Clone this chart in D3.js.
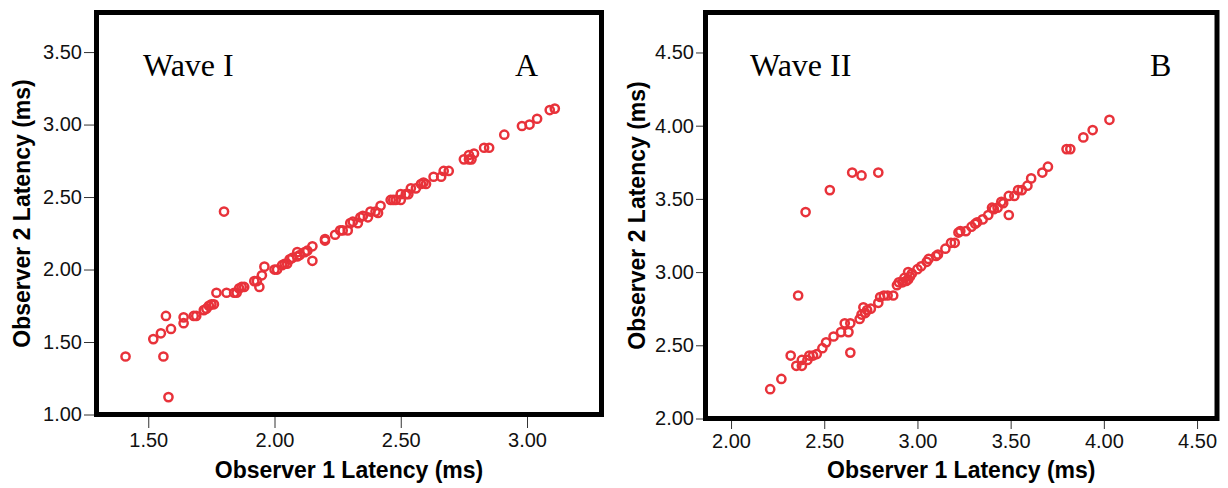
<!DOCTYPE html>
<html>
<head>
<meta charset="utf-8">
<script src="https://cdn.jsdelivr.net/npm/d3@7"></script>
<style>
  body { margin: 0; background: #fff; }
  svg { display: block; }
</style>
</head>
<body>
<div id="chart"></div>
<script>
//********************************************************************//
//
//                    DATA
//
//*******************************************************************//

  // Wave I : [observer 1, observer 2] latency in ms
  var waveI = [
    [1.41,1.40],[1.58,1.12],[1.56,1.40],[1.52,1.52],[1.55,1.56],[1.57,1.68],
    [1.59,1.59],[1.64,1.63],[1.64,1.67],[1.68,1.68],[1.69,1.68],[1.72,1.72],
    [1.73,1.73],[1.74,1.75],[1.75,1.76],[1.76,1.76],[1.77,1.84],[1.80,2.40],
    [1.81,1.84],[1.84,1.84],[1.85,1.84],[1.86,1.87],[1.87,1.88],[1.88,1.88],
    [1.92,1.92],[1.93,1.92],[1.94,1.88],[1.95,1.96],[1.96,2.02],[2.00,2.00],
    [2.01,2.00],[2.03,2.03],[2.04,2.04],[2.05,2.04],[2.06,2.07],[2.07,2.08],
    [2.09,2.09],[2.09,2.12],[2.10,2.10],[2.12,2.12],[2.13,2.13],[2.15,2.16],
    [2.15,2.06],[2.20,2.20],[2.20,2.21],[2.24,2.24],[2.26,2.27],[2.27,2.27],
    [2.29,2.27],[2.30,2.32],[2.31,2.33],[2.33,2.32],[2.34,2.36],[2.35,2.37],
    [2.37,2.36],[2.38,2.40],[2.40,2.40],[2.41,2.39],[2.42,2.44],[2.46,2.48],
    [2.47,2.48],[2.48,2.48],[2.50,2.48],[2.50,2.52],[2.52,2.52],[2.53,2.52],
    [2.54,2.56],[2.56,2.56],[2.58,2.59],[2.59,2.60],[2.60,2.59],[2.63,2.64],
    [2.66,2.64],[2.67,2.68],[2.69,2.68],[2.75,2.76],[2.77,2.76],[2.78,2.76],
    [2.77,2.79],[2.79,2.80],[2.83,2.84],[2.85,2.84],[2.91,2.93],[2.98,2.99],
    [3.01,3.00],[3.04,3.04],[3.09,3.10],[3.11,3.11]
  ];

  // Wave II : [observer 1, observer 2] latency in ms
  var waveII = [
    [2.21,2.20],[2.27,2.27],[2.32,2.43],[2.36,2.84],[2.35,2.36],[2.38,2.36],
    [2.38,2.40],[2.41,2.40],[2.42,2.43],[2.44,2.43],[2.46,2.44],[2.49,2.48],
    [2.51,2.52],[2.55,2.56],[2.59,2.59],[2.61,2.65],[2.63,2.59],[2.64,2.65],
    [2.64,2.45],[2.69,2.68],[2.71,2.76],[2.70,2.71],[2.72,2.72],[2.73,2.74],
    [2.75,2.75],[2.79,2.79],[2.80,2.83],[2.82,2.84],[2.84,2.84],[2.87,2.84],
    [2.89,2.91],[2.90,2.93],[2.40,3.41],[2.53,3.56],[2.65,3.68],[2.70,3.66],
    [2.79,3.68],[2.92,2.93],[2.93,2.96],[2.94,2.94],[2.95,2.95],[2.96,2.97],
    [2.95,3.00],[2.97,2.99],[3.00,3.02],[3.02,3.04],[3.05,3.07],[3.06,3.09],
    [3.10,3.11],[3.11,3.12],[3.15,3.16],[3.18,3.20],[3.20,3.20],[3.22,3.27],
    [3.23,3.28],[3.26,3.28],[3.29,3.31],[3.31,3.33],[3.32,3.34],[3.35,3.36],
    [3.38,3.39],[3.40,3.44],[3.41,3.43],[3.43,3.44],[3.45,3.48],[3.46,3.47],
    [3.49,3.52],[3.49,3.39],[3.52,3.52],[3.54,3.56],[3.56,3.56],[3.59,3.59],
    [3.61,3.64],[3.67,3.68],[3.70,3.72],[3.80,3.84],[3.82,3.84],[3.89,3.92],
    [3.94,3.97],[4.03,4.04]
  ];

  // axis ranges and tick labels
  var xDomainA = [1.295, 3.295];
  var yDomainA = [1.00, 3.773];
  var xTicksA = [1.50, 2.00, 2.50, 3.00];
  var yTicksA = [1.00, 1.50, 2.00, 2.50, 3.00, 3.50];

  var xDomainB = [1.863, 4.607];
  var yDomainB = [2.00, 4.773];
  var xTicksB = [2.00, 2.50, 3.00, 3.50, 4.00, 4.50];
  var yTicksB = [2.00, 2.50, 3.00, 3.50, 4.00, 4.50];

  var xTitle = "Observer 1 Latency (ms)";
  var yTitle = "Observer 2 Latency (ms)";

//********************************************************************//
//
//                    DRAW
//
//*******************************************************************//

var svg = d3.select("#chart")
            .append("svg")
            .attr("width", 1228)
            .attr("height", 488);

drawPanel({data: waveI, xDomain: xDomainA, yDomain: yDomainA,
           xTicks: xTicksA, yTicks: yTicksA,
           left: 96.5, right: 601.5, top: 12.5, bottom: 414.5,
           yTick: 10, xTick: 11, yTitleX: 22,
           wave: "Wave I", waveX: 143, letter: "A", letterX: 515});

drawPanel({data: waveII, xDomain: xDomainB, yDomain: yDomainB,
           xTicks: xTicksB, yTicks: yTicksB,
           left: 705.5, right: 1217, top: 12.5, bottom: 418.5,
           yTick: 7, xTick: 8, yTitleX: 637,
           wave: "Wave II", waveX: 750, letter: "B", letterX: 1150});

function drawPanel(p) {

  var x = d3.scaleLinear().domain(p.xDomain).range([p.left, p.right]);
  var y = d3.scaleLinear().domain(p.yDomain).range([p.bottom, p.top]);

  var g = svg.append("g");

  // x axis (ticks hang below the frame)
  var xAxis = g.append("g")
               .attr("transform", "translate(0," + (p.bottom + 2.5) + ")")
               .call(d3.axisBottom(x)
                       .tickValues(p.xTicks)
                       .tickFormat(d3.format(".2f"))
                       .tickSize(p.xTick)
                       .tickSizeOuter(0)
                       .tickPadding(5));

  // y axis
  var yAxis = g.append("g")
               .attr("transform", "translate(" + (p.left - 2.5) + ",0)")
               .call(d3.axisLeft(y)
                       .tickValues(p.yTicks)
                       .tickFormat(d3.format(".2f"))
                       .tickSize(p.yTick)
                       .tickSizeOuter(0)
                       .tickPadding(2));

  [xAxis, yAxis].forEach(function(a) {
    a.select(".domain").remove();
    a.selectAll("line").attr("stroke", "#333").attr("stroke-width", 1);
    a.selectAll("text")
     .attr("fill", "#111")
     .style("font-family", "'Liberation Sans', Arial, sans-serif")
     .style("font-size", "20px");
  });

  // the heavy frame
  g.append("rect")
   .attr("x", p.left)
   .attr("y", p.top)
   .attr("width", p.right - p.left)
   .attr("height", p.bottom - p.top)
   .attr("fill", "none")
   .attr("stroke", "#000")
   .attr("stroke-width", 5);

  // hollow red markers
  g.selectAll("circle.pt")
   .data(p.data)
   .enter()
   .append("circle")
   .attr("class", "pt")
   .attr("cx", function(d) { return x(d[0]); })
   .attr("cy", function(d) { return y(d[1]); })
   .attr("r", 4.1)
   .attr("fill", "none")
   .attr("stroke", "#e8323a")
   .attr("stroke-width", 2.5);

  // axis titles
  g.append("text")
   .attr("x", (p.left + p.right) / 2)
   .attr("y", 478)
   .attr("text-anchor", "middle")
   .style("font-family", "'Liberation Sans', Arial, sans-serif")
   .style("font-weight", "bold")
   .style("font-size", "23px")
   .text(xTitle);

  g.append("text")
   .attr("transform", "translate(" + (p.yTitleX + 8) + "," + ((p.top + p.bottom) / 2) + ") rotate(-90)")
   .attr("text-anchor", "middle")
   .style("font-family", "'Liberation Sans', Arial, sans-serif")
   .style("font-weight", "bold")
   .style("font-size", "23px")
   .text(yTitle);

  // in-plot labels
  g.append("text")
   .attr("x", p.waveX)
   .attr("y", 76)
   .style("font-family", "'Liberation Serif', 'Times New Roman', serif")
   .style("font-size", "32px")
   .text(p.wave);

  g.append("text")
   .attr("x", p.letterX)
   .attr("y", 76)
   .style("font-family", "'Liberation Serif', 'Times New Roman', serif")
   .style("font-size", "32px")
   .text(p.letter);
}
</script>
</body>
</html>
